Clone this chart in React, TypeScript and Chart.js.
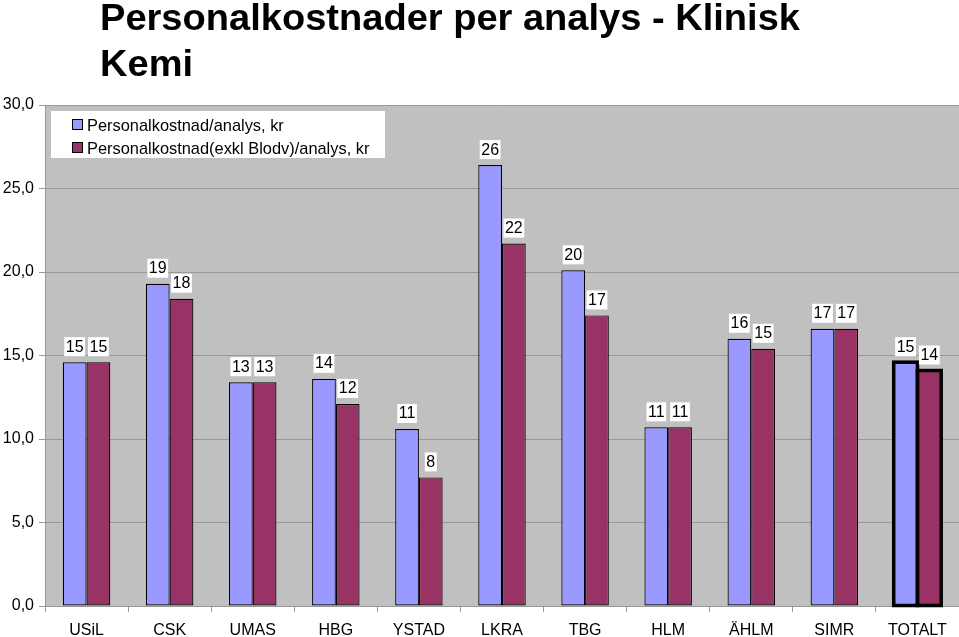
import React, { useEffect, useRef } from "react";
import { Chart, registerables } from "chart.js";

Chart.register(...registerables);

const categories = ["USiL", "CSK", "UMAS", "HBG", "YSTAD", "LKRA", "TBG", "HLM", "ÄHLM", "SIMR", "TOTALT"];
const costPerAnalysis = [14.6, 19.3, 13.4, 13.6, 10.6, 26.4, 20.1, 10.7, 16.0, 16.6, 14.6];
const costExclBlood = [14.6, 18.4, 13.4, 12.1, 7.7, 21.7, 17.4, 10.7, 15.4, 16.6, 14.1];
const seriesNames = ["Personalkostnad/analys, kr", "Personalkostnad(exkl Blodv)/analys, kr"];
const titleLines = ["Personalkostnader per analys - Klinisk", "Kemi"];
const seriesColors = ["#9999FF", "#993366"];
const highlightIndex = categories.length - 1;

const FONT = "'Liberation Sans', Arial, sans-serif";

const decorPlugin = {
  id: "decor",
  beforeDraw(chart: any) {
    const { ctx, chartArea } = chart;
    ctx.save();
    ctx.fillStyle = "#C0C0C0";
    ctx.fillRect(chartArea.left, chartArea.top, chartArea.right - chartArea.left, chartArea.bottom - chartArea.top);
    ctx.restore();
  },
  afterDatasetsDraw(chart: any) {
    const { ctx, chartArea } = chart;
    ctx.save();
    // thick outline of the highlighted (TOTALT) bars, centred on the bar edges
    chart.data.datasets.forEach((_ds: any, di: number) => {
      const el: any = chart.getDatasetMeta(di).data[highlightIndex];
      if (!el) return;
      ctx.strokeStyle = "#000";
      ctx.lineWidth = 3.5;
      ctx.strokeRect(el.x - el.width / 2, el.y, el.width, el.base - el.y);
    });

    // data labels
    ctx.font = `16px ${FONT}`;
    ctx.textAlign = "center";
    ctx.textBaseline = "alphabetic";
    chart.data.datasets.forEach((ds: any, di: number) => {
      const meta = chart.getDatasetMeta(di);
      meta.data.forEach((el: any, i: number) => {
        const txt = String(Math.round(ds.data[i]));
        const w = ctx.measureText(txt).width + 3;
        ctx.fillStyle = "#FFFFFF";
        ctx.fillRect(el.x - w / 2, el.y - 25, w, 19);
        ctx.fillStyle = "#000000";
        ctx.fillText(txt, el.x, el.y - 10.5);
      });
    });

    // legend box
    const lx = chartArea.left + 6;
    const ly = chartArea.top + 6;
    ctx.fillStyle = "#FFFFFF";
    ctx.fillRect(lx, ly, 334, 47);
    ctx.textAlign = "left";
    ctx.font = `16.4px ${FONT}`;
    seriesNames.forEach((name, i) => {
      const my = ly + 8 + i * 23;
      ctx.fillStyle = seriesColors[i];
      ctx.fillRect(lx + 21, my, 11, 11);
      ctx.strokeStyle = "#000";
      ctx.lineWidth = 1;
      ctx.strokeRect(lx + 21.5, my + 0.5, 10, 10);
      ctx.fillStyle = "#000";
      ctx.fillText(name, lx + 36, my + 11.5);
    });

    // title
    ctx.font = `bold 37px 'Liberation Sans Narrow', 'Liberation Sans', Arial, sans-serif`;
    ctx.fillStyle = "#000";
    const w1 = ctx.measureText(titleLines[0]).width;
    const sx = 700 / w1;
    titleLines.forEach((line, i) => {
      ctx.save();
      ctx.translate(100, 30 + i * 46);
      ctx.scale(sx, 1);
      ctx.fillText(line, 0, 0);
      ctx.restore();
    });
    ctx.restore();
  },
};

export default function App() {
  const ref = useRef<HTMLCanvasElement>(null);
  useEffect(() => {
    document.body.style.margin = "0";
    const canvas = ref.current!;
    const chart = new Chart(canvas, {
      type: "bar",
      data: {
        labels: categories,
        datasets: [costPerAnalysis, costExclBlood].map((d, i) => ({
          label: seriesNames[i],
          data: d,
          backgroundColor: seriesColors[i],
          borderColor: "#000000",
          borderWidth: (c: any) => (c.dataIndex === highlightIndex ? 0 : 1.2),
          borderSkipped: false,
          barPercentage: 1,
          categoryPercentage: 2 / 3.5,
        })),
      },
      options: {
        responsive: false,
        animation: false,
        devicePixelRatio: 1,
        layout: { padding: { top: 105, left: 0, right: 0, bottom: 0 } },
        plugins: { legend: { display: false }, tooltip: { enabled: false }, title: { display: false } },
        scales: {
          x: {
            grid: { offset: true, drawOnChartArea: false, drawTicks: true, tickLength: 6, color: "#999999" },
            border: { color: "#999999" },
            ticks: { color: "#000", font: { size: 16, family: FONT }, padding: 9, maxRotation: 0, autoSkip: false },
            afterFit: (s: any) => {
              s.height = 31;
            },
          },
          y: {
            min: 0,
            max: 30,
            grid: { color: "#999999", tickLength: 6 },
            border: { color: "#999999" },
            ticks: {
              stepSize: 5,
              color: "#000",
              font: { size: 16, family: FONT },
              padding: 5,
              callback: (v: any) => Number(v).toFixed(1).replace(".", ","),
            },
            afterFit: (s: any) => {
              s.width = 45;
            },
          },
        },
      },
      plugins: [decorPlugin],
    });
    return () => chart.destroy();
  }, []);
  return <canvas ref={ref} width={959} height={637} style={{ display: "block" }} />;
}
